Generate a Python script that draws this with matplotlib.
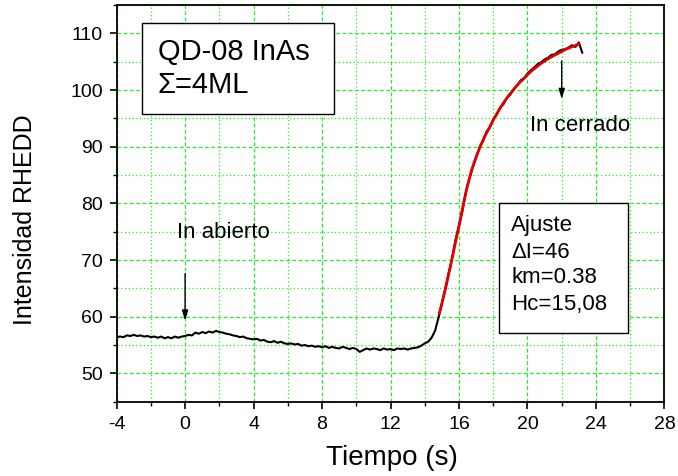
import numpy as np
import matplotlib
matplotlib.use("Agg")
import matplotlib.pyplot as plt
from matplotlib.ticker import MultipleLocator
from matplotlib.patches import Rectangle

plt.rcParams['font.family'] = ['Liberation Sans', 'DejaVu Sans']
plt.rcParams['axes.unicode_minus'] = False

# --- data ---
t_start, t_step = -4.0, 0.2
rheed = [
    56.4, 56.5, 56.4, 56.7, 56.6, 56.8, 56.6, 56.7, 56.5, 56.6,   # -4.0 .. -2.2
    56.4, 56.5, 56.3, 56.5, 56.2, 56.4, 56.2, 56.5, 56.3, 56.5,   # -2.0 .. -0.2
    56.6, 56.8, 56.7, 57.2, 57.0, 57.3, 57.1, 57.4, 57.2, 57.5,   # 0.0 .. 1.8
    57.3, 57.2, 57.0, 56.9, 56.7, 56.6, 56.4, 56.5, 56.2, 56.1,   # 2.0 .. 3.8
    56.0, 56.1, 55.8, 55.9, 55.6, 55.5, 55.7, 55.4, 55.6, 55.3,   # 4.0 .. 5.8
    55.2, 55.3, 55.1, 55.2, 54.9, 55.0, 54.8, 54.9, 54.7, 54.8,   # 6.0 .. 7.8
    54.6, 54.8, 54.5, 54.7, 54.5, 54.4, 54.7, 54.5, 54.3, 54.5,   # 8.0 .. 9.8
    54.3, 53.8, 54.1, 54.4, 54.2, 54.4, 54.3, 54.1, 54.4, 54.2,   # 10.0 .. 11.8
    54.3, 54.1, 54.4, 54.3, 54.4, 54.2, 54.4, 54.5, 54.6, 54.9,   # 12.0 .. 13.8
    55.3, 55.6, 56.3, 57.5, 59.8, 62.4, 64.9, 67.8, 70.3, 73.6,   # 14.0 .. 15.8
    76.1, 78.6, 82.0, 84.3, 86.3, 88.0, 89.9, 91.0, 92.6, 93.4,   # 16.0 .. 17.8
    94.8, 95.7, 96.9, 97.5, 98.6, 99.2, 100.2, 100.8, 101.7, 102.1,  # 18.0 .. 19.8
    102.9, 103.5, 104.0, 104.6, 104.9, 105.4, 105.7, 106.2, 106.3, 106.8,  # 20.0 .. 21.8
    107.1, 107.2, 107.5, 107.9, 107.6, 108.4, 106.6,               # 22.0 .. 23.2
]
t_rheed = t_start + t_step * np.arange(len(rheed))

t_fit = [14.85, 15.0, 15.25, 15.5, 15.75, 16.0, 16.25, 16.5, 16.75, 17.0,
         17.25, 17.5, 17.75, 18.0, 18.25, 18.5, 18.75, 19.0, 19.25, 19.5,
         19.75, 20.0, 20.25, 20.5, 20.75, 21.0, 21.25, 21.5, 21.75, 22.0,
         22.25, 22.5, 22.75, 23.0]
i_fit = [60.6, 62.3, 65.5, 68.9, 72.5, 76.0, 79.8, 83.2, 86.0, 88.2,
         90.1, 91.8, 93.2, 94.7, 96.0, 97.3, 98.4, 99.4, 100.3, 101.2,
         101.9, 102.7, 103.4, 104.0, 104.6, 105.1, 105.6, 106.0, 106.4, 106.8,
         107.2, 107.5, 107.8, 108.1]

fig = plt.figure(figsize=(6.78, 4.76), dpi=100)
ax = fig.add_axes([0.172, 0.156, 0.808, 0.8335])

ax.plot(t_rheed, rheed, color='black', lw=1.5, zorder=3)
ax.plot(t_fit, i_fit, color='#e00000', lw=2.0, zorder=4)

ax.set_xlim(-4, 28)
ax.set_ylim(45, 115)
ax.xaxis.set_major_locator(MultipleLocator(4))
ax.xaxis.set_minor_locator(MultipleLocator(2))
ax.yaxis.set_major_locator(MultipleLocator(10))
ax.yaxis.set_minor_locator(MultipleLocator(5))
ax.set_yticks([50, 60, 70, 80, 90, 100, 110])

ax.grid(which='major', color='#22ee22', ls=(0, (3, 2)), lw=0.9)
ax.grid(which='minor', color='#22ee22', ls=(0, (1, 2)), lw=0.9)
ax.set_axisbelow(True)

for s in ax.spines.values():
    s.set_linewidth(1.3)
ax.tick_params(which='major', direction='out', length=5, width=1.2,
               labelsize=14, pad=5)
ax.tick_params(which='minor', direction='out', length=3, width=1.0)

fig.text(0.578, 0.038, 'Tiempo (s)', fontsize=20, ha='center', va='center')
fig.text(0.037, 0.538, 'Intensidad RHEDD', fontsize=18, ha='center',
         va='center', rotation=90)

# text boxes
ax.add_patch(Rectangle((0.047, 0.7245), 0.350, 0.2305, transform=ax.transAxes,
                       facecolor='white', edgecolor='black', lw=1.0, zorder=5))
ax.text(0.0755, 0.8815, 'QD-08 InAs', transform=ax.transAxes, fontsize=21,
        va='center', ha='left', zorder=6)
ax.text(0.0755, 0.798, '\u03a3=4ML', transform=ax.transAxes, fontsize=21,
        va='center', ha='left', zorder=6)

ax.add_patch(Rectangle((0.698, 0.1724), 0.236, 0.3276, transform=ax.transAxes,
                       facecolor='white', edgecolor='black', lw=1.0, zorder=5))
for yy, s in zip([0.4435, 0.3765, 0.313, 0.246],
                 ['Ajuste', '\u0394I=46', 'km=0.38', 'Hc=15,08']):
    ax.text(0.72, yy, s, transform=ax.transAxes, fontsize=16,
            va='center', ha='left', zorder=6)

ax.text(2.26, 74.9, 'In abierto', fontsize=16, ha='center', va='center', zorder=6)
ax.annotate('', xy=(0, 58.8), xytext=(0, 68.1),
            arrowprops=dict(arrowstyle='-|>,head_length=0.6,head_width=0.18',
                            color='black', lw=1.0), zorder=6)

ax.text(20.15, 93.8, 'In cerrado', fontsize=16, ha='left', va='center', zorder=6)
ax.annotate('', xy=(22, 97.9), xytext=(22, 105.6),
            arrowprops=dict(arrowstyle='-|>,head_length=0.6,head_width=0.18',
                            color='black', lw=1.0), zorder=6)

fig.savefig('out.png', dpi=100)
